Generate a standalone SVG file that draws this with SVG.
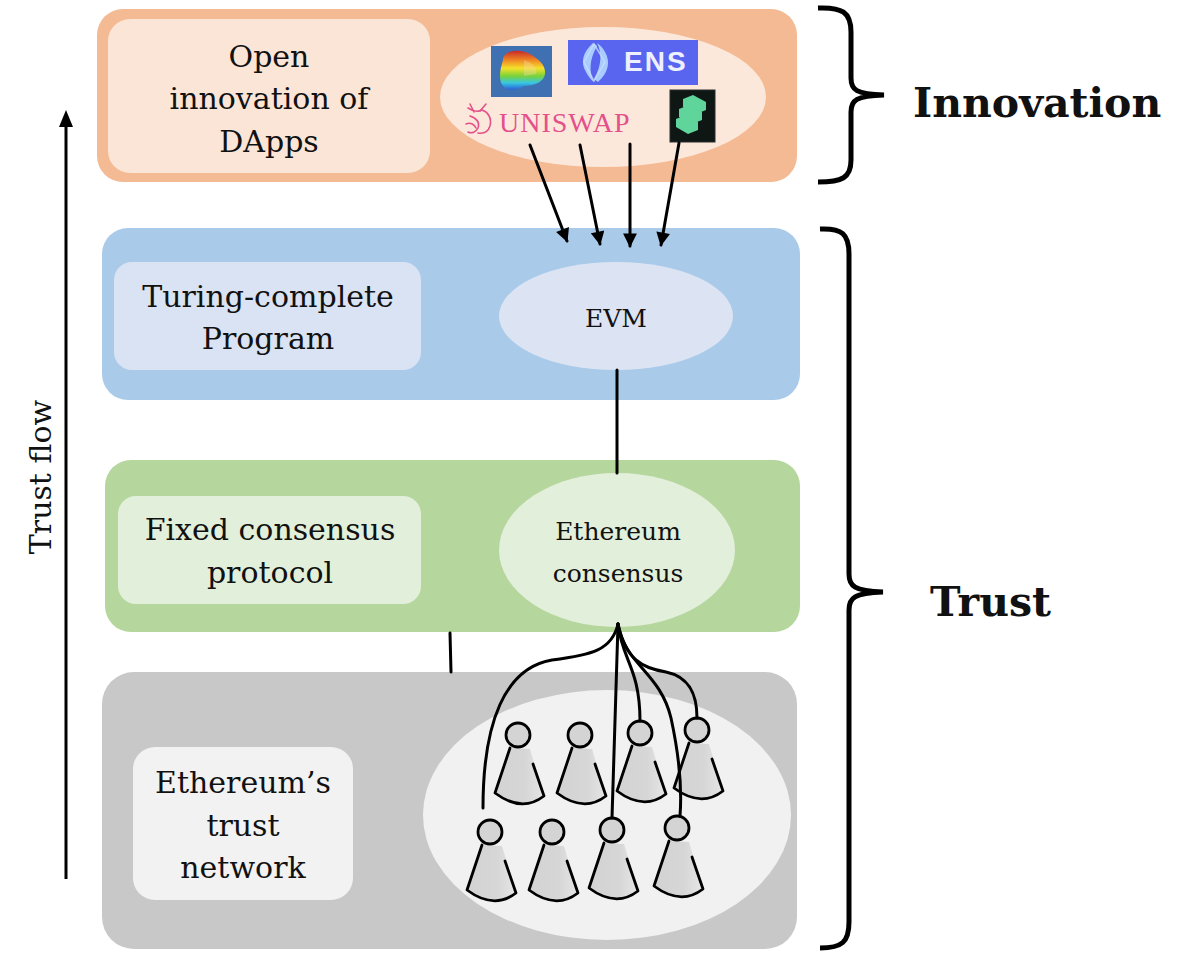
<svg xmlns="http://www.w3.org/2000/svg" xmlns:xlink="http://www.w3.org/1999/xlink" width="1188" height="956" viewBox="0 0 1188 956">
<style>
.lbl{font-family:"DejaVu Serif","Liberation Serif",serif;font-size:30px;fill:#111;text-anchor:middle}
.sm{font-family:"DejaVu Serif","Liberation Serif",serif;font-size:25px;fill:#111;text-anchor:middle}
.big{font-family:"DejaVu Serif","Liberation Serif",serif;font-size:41px;font-weight:bold;fill:#111}
.ln{fill:none;stroke:#000;stroke-width:3;stroke-linecap:round}
.brace{fill:none;stroke:#000;stroke-width:5;stroke-linejoin:miter}
</style>
<defs>
<marker id="ah" viewBox="0 0 10 10" refX="9" refY="5" markerWidth="5" markerHeight="4.6" orient="auto" markerUnits="strokeWidth">
<path d="M0,0 L10,5 L0,10 Z" fill="#000"/>
</marker>
<linearGradient id="rainbow" x1="0" y1="0" x2="0" y2="1">
<stop offset="0" stop-color="#C8282A"/>
<stop offset="0.25" stop-color="#F08A24"/>
<stop offset="0.45" stop-color="#F5E12A"/>
<stop offset="0.65" stop-color="#78D23A"/>
<stop offset="0.82" stop-color="#38C8E0"/>
<stop offset="1" stop-color="#2A5FD8"/>
</linearGradient>
<linearGradient id="bodyg" x1="0" y1="0" x2="1" y2="0">
<stop offset="0" stop-color="#D3D3D3"/>
<stop offset="0.6" stop-color="#D6D6D6"/>
<stop offset="1" stop-color="#E6E6E6"/>
</linearGradient>
<g id="person">
<path d="M-8,13 L-23,58 Q4,78 26,61 L12,14 Z" fill="url(#bodyg)"/>
<path d="M-8,13 L-23,58 Q4,78 26,61 L15,29" fill="none" stroke="#000" stroke-width="2.8" stroke-linejoin="round" stroke-linecap="round"/>
<circle r="12" fill="#D4D4D4" stroke="#000" stroke-width="2.8"/>
</g>
</defs>
<rect width="1188" height="956" fill="#FFFFFF"/>

<g id="layer-innovation">
<rect x="97" y="9" width="700" height="173" rx="26" fill="#F3BA93"/>
<rect x="108" y="19" width="322" height="154" rx="22" fill="#FBE5D7"/>
<text class="lbl" x="269" y="67">Open</text>
<text class="lbl" x="269" y="109">innovation of</text>
<text class="lbl" x="269" y="152">DApps</text>
</g>

<g id="dapps">
<ellipse cx="603" cy="97" rx="163" ry="70" fill="#FCE8DB"/>
<g id="logo-curve">
<rect x="491" y="46" width="61" height="51" fill="#3F70B2"/>
<path d="M503,60 C503,50 520,48 530,54 C540,60 546,66 545,74 C544,82 534,86 524,86 C518,90 508,92 503,86 C498,80 500,70 503,60 Z" fill="url(#rainbow)"/>
<path d="M524,60 C532,62 538,68 536,74 L524,76 Z" fill="#F7D9B0" opacity="0.35"/>
</g>
<g id="logo-ens">
<rect x="568" y="40" width="130" height="45" fill="#5A65EF"/>
<path d="M593,43 C583,52 580,62 586,72 C588,76 591,80 594,82 C589,72 589,60 597,46 Z" fill="#A9CCFF"/>
<path d="M598,82 C608,73 611,62 605,52 C603,48 600,45 597,43 C602,53 602,65 594,79 Z" fill="#A9CCFF"/>
<path d="M594,44 L584,62 L594,81 L605,62 Z" fill="none" stroke="#C9DCFF" stroke-width="1.5" opacity="0.8"/>
<text x="624" y="71" font-family="Liberation Sans, Arial, sans-serif" font-size="28" font-weight="bold" fill="#EEF0FF" letter-spacing="2">ENS</text>
</g>
<g id="logo-uniswap">
<g fill="none" stroke="#E4508A" stroke-width="1.6" stroke-linecap="round" stroke-linejoin="round">
<path d="M468,108 C474,112 478,112 482,110 C488,112 492,118 490,126 C488,132 484,134 478,133"/>
<path d="M470,116 C476,118 480,122 478,128 C476,132 472,134 468,132"/>
<path d="M474,112 L470,104 M480,111 L486,104"/>
<path d="M466,124 C470,122 474,124 476,128"/>
</g>
<text x="499" y="132" font-family="Liberation Serif, Times New Roman, serif" font-size="28" fill="#E4508A" letter-spacing="1">UNISWAP</text>
</g>
<g id="logo-compound">
<rect x="670" y="90" width="45" height="52" fill="#0F1714" stroke="#2A2F2C" stroke-width="1"/>
<g fill="#5FD49B">
<path d="M683,99 L693,95 L706,102 L706,110 L696,114 L683,107 Z"/>
<path d="M679,109 L689,105 L702,112 L702,120 L692,124 L679,117 Z"/>
<path d="M676,119 L686,115 L698,122 L698,130 L688,134 L676,127 Z"/>
</g>
</g>
</g>

<g id="layer-program">
<rect x="102" y="228" width="698" height="172" rx="26" fill="#A9CAE9"/>
<rect x="114" y="262" width="307" height="108" rx="18" fill="#DAE3F3"/>
<text class="lbl" x="268" y="307">Turing-complete</text>
<text class="lbl" x="268" y="349">Program</text>
</g>
<g id="evm">
<ellipse cx="616" cy="316" rx="117" ry="54" fill="#DCE4F4"/>
<text class="sm" x="616" y="327">EVM</text>
</g>

<g id="layer-consensus">
<rect x="105" y="460" width="695" height="172" rx="26" fill="#B5D69D"/>
<rect x="118" y="496" width="303" height="108" rx="18" fill="#E2EFDA"/>
<text class="lbl" x="270" y="540">Fixed consensus</text>
<text class="lbl" x="270" y="583">protocol</text>
</g>
<g id="ethereum-consensus">
<ellipse cx="617" cy="550" rx="118" ry="77" fill="#E2EFDA"/>
<text class="sm" x="618" y="540">Ethereum</text>
<text class="sm" x="618" y="582">consensus</text>
</g>

<g id="layer-network">
<rect x="102" y="672" width="695" height="277" rx="32" fill="#C8C8C8"/>
<rect x="133" y="747" width="220" height="153" rx="22" fill="#F2F2F2"/>
<text class="lbl" x="243" y="793">Ethereum’s</text>
<text class="lbl" x="243" y="836">trust</text>
<text class="lbl" x="243" y="878">network</text>
</g>
<g id="trust-network">
<ellipse cx="607" cy="815" rx="184" ry="125" fill="#F1F1F1"/>
<use xlink:href="#person" href="#person" x="518" y="735"/>
<use xlink:href="#person" href="#person" x="580" y="735"/>
<use xlink:href="#person" href="#person" x="640" y="733"/>
<use xlink:href="#person" href="#person" x="697" y="730"/>
<use xlink:href="#person" href="#person" x="490" y="832"/>
<use xlink:href="#person" href="#person" x="552" y="832"/>
<use xlink:href="#person" href="#person" x="612" y="830"/>
<use xlink:href="#person" href="#person" x="677" y="828"/>
</g>

<g id="connectors">
<line class="ln" x1="530" y1="145" x2="567" y2="241" marker-end="url(#ah)"/>
<line class="ln" x1="580" y1="145" x2="600" y2="244" marker-end="url(#ah)"/>
<line class="ln" x1="630" y1="144" x2="630" y2="246" marker-end="url(#ah)"/>
<line class="ln" x1="679" y1="143" x2="661" y2="245" marker-end="url(#ah)"/>
<line class="ln" x1="617" y1="370" x2="617" y2="473"/>
<line class="ln" x1="450" y1="633" x2="451" y2="672"/>
<path class="ln" d="M618,624 C612,650 592,655 552,660 C505,668 483,722 483,808"/>
<path class="ln" d="M618,624 L612,818"/>
<path class="ln" d="M618,624 C622,660 640,668 640,721"/>
<path class="ln" d="M618,624 C625,665 660,672 671,718 C679,755 682,790 680,816"/>
<path class="ln" d="M618,624 C626,660 642,668 666,672 C690,677 697,695 697,718"/>
</g>

<g id="trust-flow">
<line x1="66" y1="879" x2="66" y2="124" stroke="#000" stroke-width="3"/>
<path d="M59,127 L66,110 L73,127 Z" fill="#000"/>
<text x="0" y="0" transform="translate(51,477) rotate(-90)" font-family="DejaVu Serif, Liberation Serif, serif" font-size="30" fill="#111" text-anchor="middle">Trust flow</text>
</g>

<g id="brace-innovation">
<path class="brace" d="M818,8 C842,7 851,12 851,32 L851,78 C851,90 856,94 884,95 C856,96 851,100 851,112 L851,160 C851,178 842,182 818,182"/>
<text class="big" x="913" y="117">Innovation</text>
</g>
<g id="brace-trust">
<path class="brace" d="M820,229 C842,228 849,234 849,254 L849,574 C849,586 854,591 883,592 C854,593 849,598 849,610 L849,922 C849,942 842,948 820,948"/>
<text class="big" x="930" y="616">Trust</text>
</g>
</svg>
